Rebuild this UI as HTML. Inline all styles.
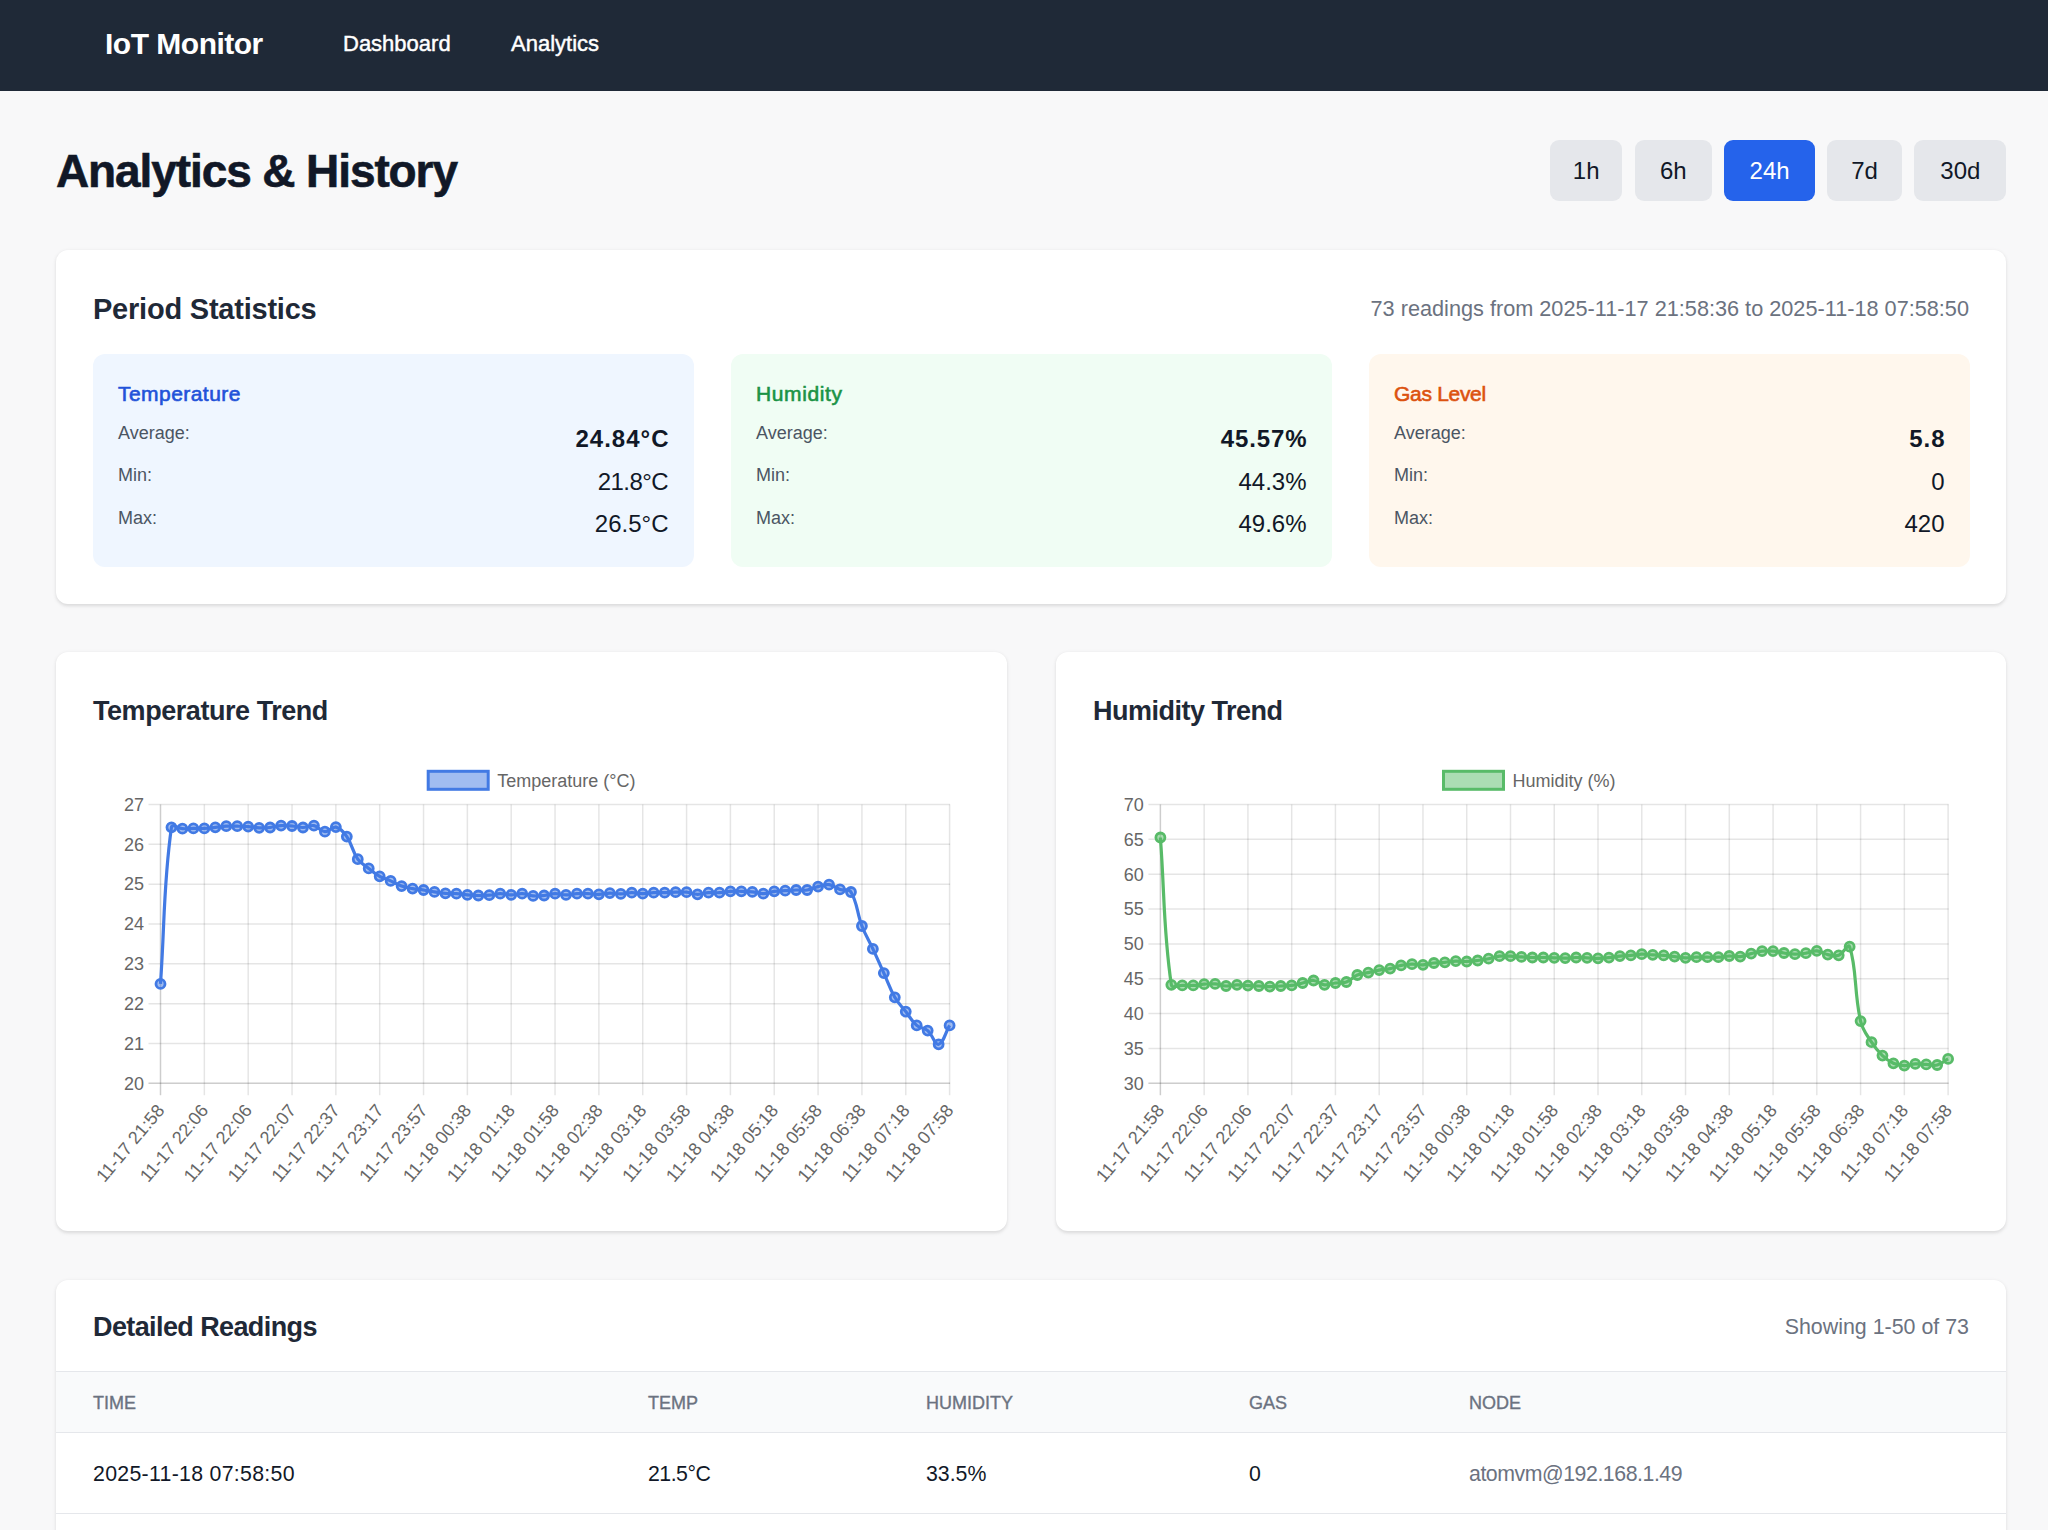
<!DOCTYPE html>
<html lang="en"><head><meta charset="utf-8"><title>IoT Monitor - Analytics</title>
<style>
html,body{margin:0;padding:0}
body{width:2048px;height:1530px;overflow:hidden;position:relative;background:#f8f8f9;font-family:"Liberation Sans", sans-serif}
.t{position:absolute;line-height:1;white-space:nowrap}
.nav{position:absolute;left:0;top:0;width:2048px;height:91px;background:#1f2937}
.btn{position:absolute;border-radius:9px;font-size:24px;line-height:61px;text-align:center}
.card{position:absolute;background:#fff;border-radius:12px;box-shadow:0 1.5px 4.5px rgba(0,0,0,0.08),0 1.5px 3px rgba(0,0,0,0.05)}
.box{position:absolute;border-radius:12px}
.charts{position:absolute;left:0;top:0}
@media (max-width:1100px){html{zoom:0.5}}
@media (min-width:1101px) and (max-width:1400px){html{zoom:0.66667}}
</style></head>
<body>
<header>
<div class="nav"></div>
<div class="t" style="left:105px;top:29.00px;font-size:30px;font-weight:700;color:#ffffff;letter-spacing:-0.5px;">IoT Monitor</div>
<div class="t" style="left:343px;top:33.00px;font-size:22px;font-weight:400;color:#ffffff;-webkit-text-stroke:0.45px #fff;">Dashboard</div>
<div class="t" style="left:511px;top:33.00px;font-size:22px;font-weight:400;color:#ffffff;-webkit-text-stroke:0.45px #fff;">Analytics</div>
</header>
<main>
<div class="t" style="left:56px;top:148.00px;font-size:46px;font-weight:700;color:#111827;letter-spacing:-1.1px;-webkit-text-stroke:0.6px #111827;">Analytics &amp; History</div>
<div class="btn" style="left:1550px;top:140px;width:72.3px;height:61px;background:#e5e7eb;color:#111827">1h</div>
<div class="btn" style="left:1634.6px;top:140px;width:77.4px;height:61px;background:#e5e7eb;color:#111827">6h</div>
<div class="btn" style="left:1724.2px;top:140px;width:90.8px;height:61px;background:#2563eb;color:#ffffff">24h</div>
<div class="btn" style="left:1827px;top:140px;width:75.2px;height:61px;background:#e5e7eb;color:#111827">7d</div>
<div class="btn" style="left:1914.2px;top:140px;width:92.3px;height:61px;background:#e5e7eb;color:#111827">30d</div>
<section class="stats">
<div class="card" style="left:56px;top:250px;width:1950px;height:353.5px"></div>
<div class="t" style="left:93px;top:295.00px;font-size:29px;font-weight:700;color:#1f2937;letter-spacing:-0.22px;">Period Statistics</div>
<div class="t" style="right:79px;top:298.00px;font-size:21.7px;font-weight:400;color:#6b7280;">73 readings from 2025-11-17 21:58:36 to 2025-11-18 07:58:50</div>
<div class="box" style="left:92.5px;top:353.5px;width:601px;height:213px;background:#eff6ff"></div>
<div class="t" style="left:118.0px;top:383.00px;font-size:21px;font-weight:400;color:#2152d9;letter-spacing:0.45px;-webkit-text-stroke:0.6px #2152d9;">Temperature</div>
<div class="t" style="left:118.0px;top:424.00px;font-size:18px;font-weight:400;color:#4b5563;">Average:</div>
<div class="t" style="right:1378.5px;top:427.00px;font-size:24px;font-weight:700;color:#111827;letter-spacing:1px;">24.84°C</div>
<div class="t" style="left:118.0px;top:466.00px;font-size:18px;font-weight:400;color:#4b5563;">Min:</div>
<div class="t" style="right:1380.1px;top:470.00px;font-size:24px;font-weight:400;color:#111827;letter-spacing:-0.6px;">21.8°C</div>
<div class="t" style="left:118.0px;top:509.00px;font-size:18px;font-weight:400;color:#4b5563;">Max:</div>
<div class="t" style="right:1379.5px;top:512.00px;font-size:24px;font-weight:400;color:#111827;">26.5°C</div>
<div class="box" style="left:730.5px;top:353.5px;width:601px;height:213px;background:#f0fdf4"></div>
<div class="t" style="left:756.0px;top:383.00px;font-size:21px;font-weight:400;color:#1a9346;letter-spacing:0.6px;-webkit-text-stroke:0.6px #1a9346;">Humidity</div>
<div class="t" style="left:756.0px;top:424.00px;font-size:18px;font-weight:400;color:#4b5563;">Average:</div>
<div class="t" style="right:740.65px;top:427.00px;font-size:24px;font-weight:700;color:#111827;letter-spacing:0.85px;">45.57%</div>
<div class="t" style="left:756.0px;top:466.00px;font-size:18px;font-weight:400;color:#4b5563;">Min:</div>
<div class="t" style="right:741.5px;top:470.00px;font-size:24px;font-weight:400;color:#111827;">44.3%</div>
<div class="t" style="left:756.0px;top:509.00px;font-size:18px;font-weight:400;color:#4b5563;">Max:</div>
<div class="t" style="right:741.5px;top:512.00px;font-size:24px;font-weight:400;color:#111827;">49.6%</div>
<div class="box" style="left:1368.5px;top:353.5px;width:601px;height:213px;background:#fff7ed"></div>
<div class="t" style="left:1394.0px;top:383.00px;font-size:21px;font-weight:400;color:#dc520f;letter-spacing:-0.3px;-webkit-text-stroke:0.6px #dc520f;">Gas Level</div>
<div class="t" style="left:1394.0px;top:424.00px;font-size:18px;font-weight:400;color:#4b5563;">Average:</div>
<div class="t" style="right:102.5px;top:427.00px;font-size:24px;font-weight:700;color:#111827;letter-spacing:1px;">5.8</div>
<div class="t" style="left:1394.0px;top:466.00px;font-size:18px;font-weight:400;color:#4b5563;">Min:</div>
<div class="t" style="right:103.5px;top:470.00px;font-size:24px;font-weight:400;color:#111827;">0</div>
<div class="t" style="left:1394.0px;top:509.00px;font-size:18px;font-weight:400;color:#4b5563;">Max:</div>
<div class="t" style="right:103.5px;top:512.00px;font-size:24px;font-weight:400;color:#111827;">420</div>
</section>
<section class="trends">
<div class="card" style="left:56px;top:652px;width:951px;height:579.4px"></div>
<div class="card" style="left:1055.6px;top:652px;width:950.4px;height:579.4px"></div>
<div class="t" style="left:93px;top:698.00px;font-size:27px;font-weight:700;color:#1f2937;letter-spacing:-0.45px;">Temperature Trend</div>
<div class="t" style="left:1093px;top:698.00px;font-size:27px;font-weight:700;color:#1f2937;letter-spacing:-0.5px;">Humidity Trend</div>
<svg class="charts" width="2048" height="1530" viewBox="0 0 2048 1530" font-family='"Liberation Sans", sans-serif'>
<g stroke="rgba(0,0,0,0.1)" stroke-width="1.5"><line x1="148.5" y1="804.50" x2="950.1" y2="804.50"/><line x1="148.5" y1="844.33" x2="950.1" y2="844.33"/><line x1="148.5" y1="884.16" x2="950.1" y2="884.16"/><line x1="148.5" y1="923.99" x2="950.1" y2="923.99"/><line x1="148.5" y1="963.81" x2="950.1" y2="963.81"/><line x1="148.5" y1="1003.64" x2="950.1" y2="1003.64"/><line x1="148.5" y1="1043.47" x2="950.1" y2="1043.47"/><line x1="148.5" y1="1083.30" x2="950.1" y2="1083.30"/><line x1="160.50" y1="804.5" x2="160.50" y2="1095.3"/><line x1="204.34" y1="804.5" x2="204.34" y2="1095.3"/><line x1="248.18" y1="804.5" x2="248.18" y2="1095.3"/><line x1="292.02" y1="804.5" x2="292.02" y2="1095.3"/><line x1="335.86" y1="804.5" x2="335.86" y2="1095.3"/><line x1="379.69" y1="804.5" x2="379.69" y2="1095.3"/><line x1="423.53" y1="804.5" x2="423.53" y2="1095.3"/><line x1="467.37" y1="804.5" x2="467.37" y2="1095.3"/><line x1="511.21" y1="804.5" x2="511.21" y2="1095.3"/><line x1="555.05" y1="804.5" x2="555.05" y2="1095.3"/><line x1="598.89" y1="804.5" x2="598.89" y2="1095.3"/><line x1="642.73" y1="804.5" x2="642.73" y2="1095.3"/><line x1="686.57" y1="804.5" x2="686.57" y2="1095.3"/><line x1="730.41" y1="804.5" x2="730.41" y2="1095.3"/><line x1="774.24" y1="804.5" x2="774.24" y2="1095.3"/><line x1="818.08" y1="804.5" x2="818.08" y2="1095.3"/><line x1="861.92" y1="804.5" x2="861.92" y2="1095.3"/><line x1="905.76" y1="804.5" x2="905.76" y2="1095.3"/><line x1="949.60" y1="804.5" x2="949.60" y2="1095.3"/></g>
<g stroke="rgba(0,0,0,0.1)" stroke-width="1.5"><line x1="148.5" y1="1083.3" x2="950.1" y2="1083.3"/><line x1="160.5" y1="804.5" x2="160.5" y2="1095.3"/></g>
<g fill="#666" font-size="18"><text x="144.00" y="810.80" text-anchor="end">27</text><text x="144.00" y="850.63" text-anchor="end">26</text><text x="144.00" y="890.46" text-anchor="end">25</text><text x="144.00" y="930.29" text-anchor="end">24</text><text x="144.00" y="970.11" text-anchor="end">23</text><text x="144.00" y="1009.94" text-anchor="end">22</text><text x="144.00" y="1049.77" text-anchor="end">21</text><text x="144.00" y="1089.60" text-anchor="end">20</text></g>
<g fill="#666" font-size="18"><text transform="translate(152.23,1099.80) rotate(-50)" x="0" y="17.10" text-anchor="end">11-17 21:58</text><text transform="translate(196.07,1099.80) rotate(-50)" x="0" y="17.10" text-anchor="end">11-17 22:06</text><text transform="translate(239.90,1099.80) rotate(-50)" x="0" y="17.10" text-anchor="end">11-17 22:06</text><text transform="translate(283.74,1099.80) rotate(-50)" x="0" y="17.10" text-anchor="end">11-17 22:07</text><text transform="translate(327.58,1099.80) rotate(-50)" x="0" y="17.10" text-anchor="end">11-17 22:37</text><text transform="translate(371.42,1099.80) rotate(-50)" x="0" y="17.10" text-anchor="end">11-17 23:17</text><text transform="translate(415.26,1099.80) rotate(-50)" x="0" y="17.10" text-anchor="end">11-17 23:57</text><text transform="translate(459.10,1099.80) rotate(-50)" x="0" y="17.10" text-anchor="end">11-18 00:38</text><text transform="translate(502.94,1099.80) rotate(-50)" x="0" y="17.10" text-anchor="end">11-18 01:18</text><text transform="translate(546.78,1099.80) rotate(-50)" x="0" y="17.10" text-anchor="end">11-18 01:58</text><text transform="translate(590.62,1099.80) rotate(-50)" x="0" y="17.10" text-anchor="end">11-18 02:38</text><text transform="translate(634.45,1099.80) rotate(-50)" x="0" y="17.10" text-anchor="end">11-18 03:18</text><text transform="translate(678.29,1099.80) rotate(-50)" x="0" y="17.10" text-anchor="end">11-18 03:58</text><text transform="translate(722.13,1099.80) rotate(-50)" x="0" y="17.10" text-anchor="end">11-18 04:38</text><text transform="translate(765.97,1099.80) rotate(-50)" x="0" y="17.10" text-anchor="end">11-18 05:18</text><text transform="translate(809.81,1099.80) rotate(-50)" x="0" y="17.10" text-anchor="end">11-18 05:58</text><text transform="translate(853.65,1099.80) rotate(-50)" x="0" y="17.10" text-anchor="end">11-18 06:38</text><text transform="translate(897.49,1099.80) rotate(-50)" x="0" y="17.10" text-anchor="end">11-18 07:18</text><text transform="translate(941.33,1099.80) rotate(-50)" x="0" y="17.10" text-anchor="end">11-18 07:58</text></g>
<rect x="428.20" y="771.3" width="60" height="18" fill="rgba(66,122,228,0.5)" stroke="rgb(66,122,228)" stroke-width="3"/>
<text x="497.20" y="786.60" fill="#666" font-size="18">Temperature (°C)</text>
<path d="M160.50,983.90C164.88,921.26 163.27,885.30 171.46,827.30C172.04,823.22 178.02,828.48 182.42,828.70C186.79,828.92 188.99,828.46 193.38,828.40C197.76,828.34 199.97,828.62 204.34,828.40C208.73,828.18 210.91,827.74 215.30,827.30C219.68,826.86 221.86,826.42 226.26,826.20C230.63,825.98 232.84,826.12 237.22,826.20C241.60,826.28 243.81,826.28 248.18,826.60C252.57,826.92 254.74,827.62 259.14,827.80C263.51,827.98 265.74,827.94 270.10,827.50C274.51,827.06 276.64,825.90 281.06,825.60C285.41,825.30 287.65,825.62 292.02,826.00C296.42,826.38 298.60,827.58 302.98,827.50C307.37,827.42 309.82,824.81 313.94,825.60C318.58,826.49 320.39,831.39 324.90,831.70C329.16,831.99 331.91,826.22 335.86,827.10C340.67,828.18 343.61,831.90 346.82,836.60C352.37,844.74 352.19,851.10 357.77,859.20C360.96,863.82 364.22,864.88 368.73,868.40C372.99,871.72 375.03,873.64 379.69,876.30C383.80,878.64 386.31,878.96 390.65,880.90C395.08,882.88 397.06,884.50 401.61,886.10C405.83,887.58 408.15,887.81 412.57,888.60C416.92,889.37 419.16,889.34 423.53,890.00C427.93,890.66 430.09,891.24 434.49,891.90C438.86,892.56 441.05,892.94 445.45,893.30C449.82,893.66 452.04,893.38 456.41,893.70C460.81,894.02 462.98,894.54 467.37,894.90C471.75,895.26 473.95,895.44 478.33,895.50C482.71,895.56 484.93,895.56 489.29,895.20C493.70,894.84 495.86,893.76 500.25,893.70C504.63,893.64 506.83,894.90 511.21,894.90C515.60,894.90 517.82,893.50 522.17,893.70C526.58,893.90 528.70,895.54 533.13,895.90C537.47,896.26 539.73,895.94 544.09,895.50C548.50,895.06 550.65,893.82 555.05,893.70C559.42,893.58 561.63,894.90 566.01,894.90C570.39,894.90 572.57,893.94 576.97,893.70C581.34,893.46 583.55,893.58 587.93,893.70C592.32,893.82 594.51,894.42 598.89,894.30C603.28,894.18 605.46,893.18 609.85,893.10C614.23,893.02 616.43,893.98 620.81,893.90C625.20,893.82 627.38,892.74 631.77,892.70C636.15,892.66 638.34,893.70 642.73,893.70C647.11,893.70 649.29,892.90 653.69,892.70C658.06,892.50 660.27,892.80 664.65,892.70C669.03,892.60 671.22,892.30 675.61,892.20C679.99,892.10 682.22,891.78 686.57,892.20C690.99,892.62 693.13,894.20 697.53,894.30C701.89,894.40 704.08,893.02 708.49,892.70C712.85,892.38 715.08,892.98 719.45,892.70C723.85,892.42 726.00,891.58 730.41,891.30C734.77,891.02 736.98,891.18 741.37,891.30C745.75,891.42 747.97,891.42 752.33,891.90C756.73,892.38 758.92,893.82 763.28,893.70C767.69,893.58 769.81,891.91 774.24,891.30C778.58,890.71 780.82,890.96 785.20,890.70C789.59,890.44 791.78,890.14 796.16,890.00C800.54,889.86 802.84,890.66 807.12,890.00C811.61,889.30 813.63,887.68 818.08,886.60C822.40,885.56 824.81,884.16 829.04,884.70C833.58,885.28 835.49,887.90 840.00,889.40C844.26,890.82 848.86,888.49 850.96,892.00C857.63,903.13 856.80,912.70 861.92,926.00C865.56,935.46 868.60,939.69 872.88,948.90C877.37,958.53 879.46,963.42 883.84,973.10C888.23,982.78 889.58,988.12 894.80,997.30C898.34,1003.52 901.33,1005.92 905.76,1011.60C910.10,1017.16 911.53,1020.90 916.72,1025.40C920.30,1028.50 924.10,1027.51 927.68,1030.60C932.86,1035.07 934.74,1045.23 938.64,1044.30C943.50,1043.15 945.22,1032.96 949.60,1025.40" fill="none" stroke="rgb(66,122,228)" stroke-width="3.2"/>
<g fill="rgba(66,122,228,0.5)" stroke="rgb(66,122,228)" stroke-width="2.8"><circle cx="160.50" cy="983.90" r="4.5"/><circle cx="171.46" cy="827.30" r="4.5"/><circle cx="182.42" cy="828.70" r="4.5"/><circle cx="193.38" cy="828.40" r="4.5"/><circle cx="204.34" cy="828.40" r="4.5"/><circle cx="215.30" cy="827.30" r="4.5"/><circle cx="226.26" cy="826.20" r="4.5"/><circle cx="237.22" cy="826.20" r="4.5"/><circle cx="248.18" cy="826.60" r="4.5"/><circle cx="259.14" cy="827.80" r="4.5"/><circle cx="270.10" cy="827.50" r="4.5"/><circle cx="281.06" cy="825.60" r="4.5"/><circle cx="292.02" cy="826.00" r="4.5"/><circle cx="302.98" cy="827.50" r="4.5"/><circle cx="313.94" cy="825.60" r="4.5"/><circle cx="324.90" cy="831.70" r="4.5"/><circle cx="335.86" cy="827.10" r="4.5"/><circle cx="346.82" cy="836.60" r="4.5"/><circle cx="357.77" cy="859.20" r="4.5"/><circle cx="368.73" cy="868.40" r="4.5"/><circle cx="379.69" cy="876.30" r="4.5"/><circle cx="390.65" cy="880.90" r="4.5"/><circle cx="401.61" cy="886.10" r="4.5"/><circle cx="412.57" cy="888.60" r="4.5"/><circle cx="423.53" cy="890.00" r="4.5"/><circle cx="434.49" cy="891.90" r="4.5"/><circle cx="445.45" cy="893.30" r="4.5"/><circle cx="456.41" cy="893.70" r="4.5"/><circle cx="467.37" cy="894.90" r="4.5"/><circle cx="478.33" cy="895.50" r="4.5"/><circle cx="489.29" cy="895.20" r="4.5"/><circle cx="500.25" cy="893.70" r="4.5"/><circle cx="511.21" cy="894.90" r="4.5"/><circle cx="522.17" cy="893.70" r="4.5"/><circle cx="533.13" cy="895.90" r="4.5"/><circle cx="544.09" cy="895.50" r="4.5"/><circle cx="555.05" cy="893.70" r="4.5"/><circle cx="566.01" cy="894.90" r="4.5"/><circle cx="576.97" cy="893.70" r="4.5"/><circle cx="587.93" cy="893.70" r="4.5"/><circle cx="598.89" cy="894.30" r="4.5"/><circle cx="609.85" cy="893.10" r="4.5"/><circle cx="620.81" cy="893.90" r="4.5"/><circle cx="631.77" cy="892.70" r="4.5"/><circle cx="642.73" cy="893.70" r="4.5"/><circle cx="653.69" cy="892.70" r="4.5"/><circle cx="664.65" cy="892.70" r="4.5"/><circle cx="675.61" cy="892.20" r="4.5"/><circle cx="686.57" cy="892.20" r="4.5"/><circle cx="697.53" cy="894.30" r="4.5"/><circle cx="708.49" cy="892.70" r="4.5"/><circle cx="719.45" cy="892.70" r="4.5"/><circle cx="730.41" cy="891.30" r="4.5"/><circle cx="741.37" cy="891.30" r="4.5"/><circle cx="752.33" cy="891.90" r="4.5"/><circle cx="763.28" cy="893.70" r="4.5"/><circle cx="774.24" cy="891.30" r="4.5"/><circle cx="785.20" cy="890.70" r="4.5"/><circle cx="796.16" cy="890.00" r="4.5"/><circle cx="807.12" cy="890.00" r="4.5"/><circle cx="818.08" cy="886.60" r="4.5"/><circle cx="829.04" cy="884.70" r="4.5"/><circle cx="840.00" cy="889.40" r="4.5"/><circle cx="850.96" cy="892.00" r="4.5"/><circle cx="861.92" cy="926.00" r="4.5"/><circle cx="872.88" cy="948.90" r="4.5"/><circle cx="883.84" cy="973.10" r="4.5"/><circle cx="894.80" cy="997.30" r="4.5"/><circle cx="905.76" cy="1011.60" r="4.5"/><circle cx="916.72" cy="1025.40" r="4.5"/><circle cx="927.68" cy="1030.60" r="4.5"/><circle cx="938.64" cy="1044.30" r="4.5"/><circle cx="949.60" cy="1025.40" r="4.5"/></g>
<g stroke="rgba(0,0,0,0.1)" stroke-width="1.5"><line x1="1148.4" y1="804.50" x2="1948.6" y2="804.50"/><line x1="1148.4" y1="839.35" x2="1948.6" y2="839.35"/><line x1="1148.4" y1="874.20" x2="1948.6" y2="874.20"/><line x1="1148.4" y1="909.05" x2="1948.6" y2="909.05"/><line x1="1148.4" y1="943.90" x2="1948.6" y2="943.90"/><line x1="1148.4" y1="978.75" x2="1948.6" y2="978.75"/><line x1="1148.4" y1="1013.60" x2="1948.6" y2="1013.60"/><line x1="1148.4" y1="1048.45" x2="1948.6" y2="1048.45"/><line x1="1148.4" y1="1083.30" x2="1948.6" y2="1083.30"/><line x1="1160.40" y1="804.5" x2="1160.40" y2="1095.3"/><line x1="1204.16" y1="804.5" x2="1204.16" y2="1095.3"/><line x1="1247.92" y1="804.5" x2="1247.92" y2="1095.3"/><line x1="1291.68" y1="804.5" x2="1291.68" y2="1095.3"/><line x1="1335.44" y1="804.5" x2="1335.44" y2="1095.3"/><line x1="1379.21" y1="804.5" x2="1379.21" y2="1095.3"/><line x1="1422.97" y1="804.5" x2="1422.97" y2="1095.3"/><line x1="1466.73" y1="804.5" x2="1466.73" y2="1095.3"/><line x1="1510.49" y1="804.5" x2="1510.49" y2="1095.3"/><line x1="1554.25" y1="804.5" x2="1554.25" y2="1095.3"/><line x1="1598.01" y1="804.5" x2="1598.01" y2="1095.3"/><line x1="1641.77" y1="804.5" x2="1641.77" y2="1095.3"/><line x1="1685.53" y1="804.5" x2="1685.53" y2="1095.3"/><line x1="1729.29" y1="804.5" x2="1729.29" y2="1095.3"/><line x1="1773.06" y1="804.5" x2="1773.06" y2="1095.3"/><line x1="1816.82" y1="804.5" x2="1816.82" y2="1095.3"/><line x1="1860.58" y1="804.5" x2="1860.58" y2="1095.3"/><line x1="1904.34" y1="804.5" x2="1904.34" y2="1095.3"/><line x1="1948.10" y1="804.5" x2="1948.10" y2="1095.3"/></g>
<g stroke="rgba(0,0,0,0.1)" stroke-width="1.5"><line x1="1148.4" y1="1083.3" x2="1948.6" y2="1083.3"/><line x1="1160.4" y1="804.5" x2="1160.4" y2="1095.3"/></g>
<g fill="#666" font-size="18"><text x="1143.90" y="810.80" text-anchor="end">70</text><text x="1143.90" y="845.65" text-anchor="end">65</text><text x="1143.90" y="880.50" text-anchor="end">60</text><text x="1143.90" y="915.35" text-anchor="end">55</text><text x="1143.90" y="950.20" text-anchor="end">50</text><text x="1143.90" y="985.05" text-anchor="end">45</text><text x="1143.90" y="1019.90" text-anchor="end">40</text><text x="1143.90" y="1054.75" text-anchor="end">35</text><text x="1143.90" y="1089.60" text-anchor="end">30</text></g>
<g fill="#666" font-size="18"><text transform="translate(1152.13,1099.80) rotate(-50)" x="0" y="17.10" text-anchor="end">11-17 21:58</text><text transform="translate(1195.89,1099.80) rotate(-50)" x="0" y="17.10" text-anchor="end">11-17 22:06</text><text transform="translate(1239.65,1099.80) rotate(-50)" x="0" y="17.10" text-anchor="end">11-17 22:06</text><text transform="translate(1283.41,1099.80) rotate(-50)" x="0" y="17.10" text-anchor="end">11-17 22:07</text><text transform="translate(1327.17,1099.80) rotate(-50)" x="0" y="17.10" text-anchor="end">11-17 22:37</text><text transform="translate(1370.93,1099.80) rotate(-50)" x="0" y="17.10" text-anchor="end">11-17 23:17</text><text transform="translate(1414.69,1099.80) rotate(-50)" x="0" y="17.10" text-anchor="end">11-17 23:57</text><text transform="translate(1458.45,1099.80) rotate(-50)" x="0" y="17.10" text-anchor="end">11-18 00:38</text><text transform="translate(1502.22,1099.80) rotate(-50)" x="0" y="17.10" text-anchor="end">11-18 01:18</text><text transform="translate(1545.98,1099.80) rotate(-50)" x="0" y="17.10" text-anchor="end">11-18 01:58</text><text transform="translate(1589.74,1099.80) rotate(-50)" x="0" y="17.10" text-anchor="end">11-18 02:38</text><text transform="translate(1633.50,1099.80) rotate(-50)" x="0" y="17.10" text-anchor="end">11-18 03:18</text><text transform="translate(1677.26,1099.80) rotate(-50)" x="0" y="17.10" text-anchor="end">11-18 03:58</text><text transform="translate(1721.02,1099.80) rotate(-50)" x="0" y="17.10" text-anchor="end">11-18 04:38</text><text transform="translate(1764.78,1099.80) rotate(-50)" x="0" y="17.10" text-anchor="end">11-18 05:18</text><text transform="translate(1808.54,1099.80) rotate(-50)" x="0" y="17.10" text-anchor="end">11-18 05:58</text><text transform="translate(1852.30,1099.80) rotate(-50)" x="0" y="17.10" text-anchor="end">11-18 06:38</text><text transform="translate(1896.07,1099.80) rotate(-50)" x="0" y="17.10" text-anchor="end">11-18 07:18</text><text transform="translate(1939.83,1099.80) rotate(-50)" x="0" y="17.10" text-anchor="end">11-18 07:58</text></g>
<rect x="1443.50" y="771.3" width="60" height="18" fill="rgba(88,187,104,0.5)" stroke="rgb(88,187,104)" stroke-width="3"/>
<text x="1512.50" y="786.60" fill="#666" font-size="18">Humidity (%)</text>
<path d="M1160.40,837.50C1164.78,896.42 1163.19,929.73 1171.34,984.80C1171.94,988.89 1177.90,985.28 1182.28,985.40C1186.65,985.52 1188.86,985.64 1193.22,985.40C1197.61,985.16 1199.77,984.50 1204.16,984.20C1208.52,983.90 1210.76,983.54 1215.10,983.90C1219.52,984.26 1221.64,985.82 1226.04,986.00C1230.39,986.18 1232.60,984.88 1236.98,984.80C1241.35,984.72 1243.54,985.36 1247.92,985.60C1252.29,985.84 1254.49,985.80 1258.86,986.00C1263.24,986.20 1265.43,986.60 1269.80,986.60C1274.18,986.60 1276.37,986.24 1280.74,986.00C1285.12,985.76 1287.36,985.99 1291.68,985.40C1296.11,984.79 1298.25,983.98 1302.62,983.00C1307.00,982.02 1309.29,980.15 1313.56,980.50C1318.04,980.87 1320.00,984.29 1324.50,984.80C1328.75,985.29 1331.05,983.56 1335.44,983.00C1339.80,982.44 1342.37,983.47 1346.38,982.00C1351.13,980.27 1352.63,977.02 1357.33,975.00C1361.38,973.26 1363.89,973.58 1368.27,972.60C1372.65,971.62 1374.79,970.91 1379.21,970.10C1383.55,969.31 1385.84,969.53 1390.15,968.60C1394.59,967.65 1396.63,966.30 1401.09,965.40C1405.39,964.54 1407.64,964.32 1412.03,964.20C1416.39,964.08 1418.62,965.04 1422.97,964.80C1427.37,964.56 1429.51,963.50 1433.91,963.00C1438.26,962.50 1440.48,962.68 1444.85,962.30C1449.23,961.92 1451.40,961.26 1455.79,961.10C1460.15,960.94 1462.36,961.62 1466.73,961.50C1471.11,961.38 1473.31,961.06 1477.67,960.50C1482.06,959.94 1484.26,959.55 1488.61,958.70C1493.01,957.83 1495.12,956.71 1499.55,956.20C1503.87,955.71 1506.12,956.06 1510.49,956.20C1514.87,956.34 1517.05,956.64 1521.43,956.90C1525.80,957.16 1527.99,957.38 1532.37,957.50C1536.74,957.62 1538.93,957.44 1543.31,957.50C1547.69,957.56 1549.87,957.68 1554.25,957.80C1558.63,957.92 1560.82,958.16 1565.19,958.10C1569.57,958.04 1571.75,957.56 1576.13,957.50C1580.50,957.44 1582.70,957.64 1587.07,957.80C1591.45,957.96 1593.64,958.34 1598.01,958.30C1602.39,958.26 1604.59,958.04 1608.95,957.60C1613.34,957.16 1615.50,956.54 1619.89,956.10C1624.25,955.66 1626.46,955.78 1630.83,955.40C1635.22,955.02 1637.39,954.32 1641.77,954.20C1646.14,954.08 1648.34,954.56 1652.71,954.80C1657.09,955.04 1659.29,955.04 1663.65,955.40C1668.04,955.76 1670.22,956.12 1674.59,956.60C1678.97,957.08 1681.15,957.68 1685.53,957.80C1689.90,957.92 1692.09,957.32 1696.47,957.20C1700.85,957.08 1703.04,957.20 1707.41,957.20C1711.79,957.20 1713.99,957.44 1718.35,957.20C1722.74,956.96 1724.91,956.12 1729.29,956.00C1733.66,955.88 1735.93,957.07 1740.23,956.60C1744.69,956.11 1746.78,954.71 1751.17,953.60C1755.53,952.51 1757.68,951.61 1762.12,951.10C1766.44,950.61 1768.71,950.72 1773.06,951.10C1777.46,951.48 1779.60,952.38 1784.00,953.00C1788.35,953.62 1790.56,954.16 1794.94,954.20C1799.31,954.24 1801.54,953.87 1805.88,953.20C1810.29,952.51 1812.51,950.52 1816.82,950.80C1821.27,951.08 1823.26,953.68 1827.76,954.60C1832.01,955.48 1834.84,956.69 1838.70,955.30C1843.59,953.53 1848.27,942.59 1849.64,946.70C1857.02,968.91 1853.93,992.07 1860.58,1021.10C1862.68,1030.27 1866.45,1034.21 1871.52,1042.20C1875.20,1048.01 1877.52,1050.84 1882.46,1055.60C1886.28,1059.28 1888.63,1061.12 1893.40,1063.30C1897.38,1065.12 1899.94,1065.48 1904.34,1065.60C1908.69,1065.72 1910.88,1064.14 1915.28,1063.90C1919.63,1063.66 1921.84,1064.18 1926.22,1064.40C1930.60,1064.62 1933.08,1066.03 1937.16,1065.00C1941.83,1063.83 1943.72,1061.34 1948.10,1058.90" fill="none" stroke="rgb(88,187,104)" stroke-width="3.2"/>
<g fill="rgba(88,187,104,0.5)" stroke="rgb(88,187,104)" stroke-width="2.8"><circle cx="1160.40" cy="837.50" r="4.5"/><circle cx="1171.34" cy="984.80" r="4.5"/><circle cx="1182.28" cy="985.40" r="4.5"/><circle cx="1193.22" cy="985.40" r="4.5"/><circle cx="1204.16" cy="984.20" r="4.5"/><circle cx="1215.10" cy="983.90" r="4.5"/><circle cx="1226.04" cy="986.00" r="4.5"/><circle cx="1236.98" cy="984.80" r="4.5"/><circle cx="1247.92" cy="985.60" r="4.5"/><circle cx="1258.86" cy="986.00" r="4.5"/><circle cx="1269.80" cy="986.60" r="4.5"/><circle cx="1280.74" cy="986.00" r="4.5"/><circle cx="1291.68" cy="985.40" r="4.5"/><circle cx="1302.62" cy="983.00" r="4.5"/><circle cx="1313.56" cy="980.50" r="4.5"/><circle cx="1324.50" cy="984.80" r="4.5"/><circle cx="1335.44" cy="983.00" r="4.5"/><circle cx="1346.38" cy="982.00" r="4.5"/><circle cx="1357.33" cy="975.00" r="4.5"/><circle cx="1368.27" cy="972.60" r="4.5"/><circle cx="1379.21" cy="970.10" r="4.5"/><circle cx="1390.15" cy="968.60" r="4.5"/><circle cx="1401.09" cy="965.40" r="4.5"/><circle cx="1412.03" cy="964.20" r="4.5"/><circle cx="1422.97" cy="964.80" r="4.5"/><circle cx="1433.91" cy="963.00" r="4.5"/><circle cx="1444.85" cy="962.30" r="4.5"/><circle cx="1455.79" cy="961.10" r="4.5"/><circle cx="1466.73" cy="961.50" r="4.5"/><circle cx="1477.67" cy="960.50" r="4.5"/><circle cx="1488.61" cy="958.70" r="4.5"/><circle cx="1499.55" cy="956.20" r="4.5"/><circle cx="1510.49" cy="956.20" r="4.5"/><circle cx="1521.43" cy="956.90" r="4.5"/><circle cx="1532.37" cy="957.50" r="4.5"/><circle cx="1543.31" cy="957.50" r="4.5"/><circle cx="1554.25" cy="957.80" r="4.5"/><circle cx="1565.19" cy="958.10" r="4.5"/><circle cx="1576.13" cy="957.50" r="4.5"/><circle cx="1587.07" cy="957.80" r="4.5"/><circle cx="1598.01" cy="958.30" r="4.5"/><circle cx="1608.95" cy="957.60" r="4.5"/><circle cx="1619.89" cy="956.10" r="4.5"/><circle cx="1630.83" cy="955.40" r="4.5"/><circle cx="1641.77" cy="954.20" r="4.5"/><circle cx="1652.71" cy="954.80" r="4.5"/><circle cx="1663.65" cy="955.40" r="4.5"/><circle cx="1674.59" cy="956.60" r="4.5"/><circle cx="1685.53" cy="957.80" r="4.5"/><circle cx="1696.47" cy="957.20" r="4.5"/><circle cx="1707.41" cy="957.20" r="4.5"/><circle cx="1718.35" cy="957.20" r="4.5"/><circle cx="1729.29" cy="956.00" r="4.5"/><circle cx="1740.23" cy="956.60" r="4.5"/><circle cx="1751.17" cy="953.60" r="4.5"/><circle cx="1762.12" cy="951.10" r="4.5"/><circle cx="1773.06" cy="951.10" r="4.5"/><circle cx="1784.00" cy="953.00" r="4.5"/><circle cx="1794.94" cy="954.20" r="4.5"/><circle cx="1805.88" cy="953.20" r="4.5"/><circle cx="1816.82" cy="950.80" r="4.5"/><circle cx="1827.76" cy="954.60" r="4.5"/><circle cx="1838.70" cy="955.30" r="4.5"/><circle cx="1849.64" cy="946.70" r="4.5"/><circle cx="1860.58" cy="1021.10" r="4.5"/><circle cx="1871.52" cy="1042.20" r="4.5"/><circle cx="1882.46" cy="1055.60" r="4.5"/><circle cx="1893.40" cy="1063.30" r="4.5"/><circle cx="1904.34" cy="1065.60" r="4.5"/><circle cx="1915.28" cy="1063.90" r="4.5"/><circle cx="1926.22" cy="1064.40" r="4.5"/><circle cx="1937.16" cy="1065.00" r="4.5"/><circle cx="1948.10" cy="1058.90" r="4.5"/></g>
</svg>
</section>
<section class="readings">
<div class="card" style="left:56px;top:1279.5px;width:1950px;height:400px"></div>
<div class="t" style="left:93px;top:1314.00px;font-size:27px;font-weight:700;color:#1f2937;letter-spacing:-0.6px;">Detailed Readings</div>
<div class="t" style="right:79px;top:1317.00px;font-size:21.4px;font-weight:400;color:#6b7280;">Showing 1-50 of 73</div>
<div style="position:absolute;left:56px;top:1371px;width:1950px;height:62px;background:#f9fafb;border-top:1.5px solid #e5e7eb;border-bottom:1.5px solid #e5e7eb;box-sizing:border-box"></div>
<div style="position:absolute;left:56px;top:1512.5px;width:1950px;height:1.5px;background:#e5e7eb"></div>
<div class="t" style="left:93px;top:1394.00px;font-size:18px;font-weight:400;color:#6b7280;-webkit-text-stroke:0.35px #6b7280;">TIME</div>
<div class="t" style="left:648px;top:1394.00px;font-size:18px;font-weight:400;color:#6b7280;-webkit-text-stroke:0.35px #6b7280;">TEMP</div>
<div class="t" style="left:926px;top:1394.00px;font-size:18px;font-weight:400;color:#6b7280;-webkit-text-stroke:0.35px #6b7280;">HUMIDITY</div>
<div class="t" style="left:1249px;top:1394.00px;font-size:18px;font-weight:400;color:#6b7280;-webkit-text-stroke:0.35px #6b7280;">GAS</div>
<div class="t" style="left:1469px;top:1394.00px;font-size:18px;font-weight:400;color:#6b7280;-webkit-text-stroke:0.35px #6b7280;">NODE</div>
<div class="t" style="left:93px;top:1464.00px;font-size:21.3px;font-weight:400;color:#111827;letter-spacing:0.3px;">2025-11-18 07:58:50</div>
<div class="t" style="left:648px;top:1464.00px;font-size:21.3px;font-weight:400;color:#111827;letter-spacing:-0.5px;">21.5°C</div>
<div class="t" style="left:926px;top:1464.00px;font-size:21.3px;font-weight:400;color:#111827;">33.5%</div>
<div class="t" style="left:1249px;top:1464.00px;font-size:21.3px;font-weight:400;color:#111827;">0</div>
<div class="t" style="left:1469px;top:1464.00px;font-size:21.3px;font-weight:400;color:#6b7280;letter-spacing:-0.45px;">atomvm@192.168.1.49</div>
</section>
</main>
</body></html>
